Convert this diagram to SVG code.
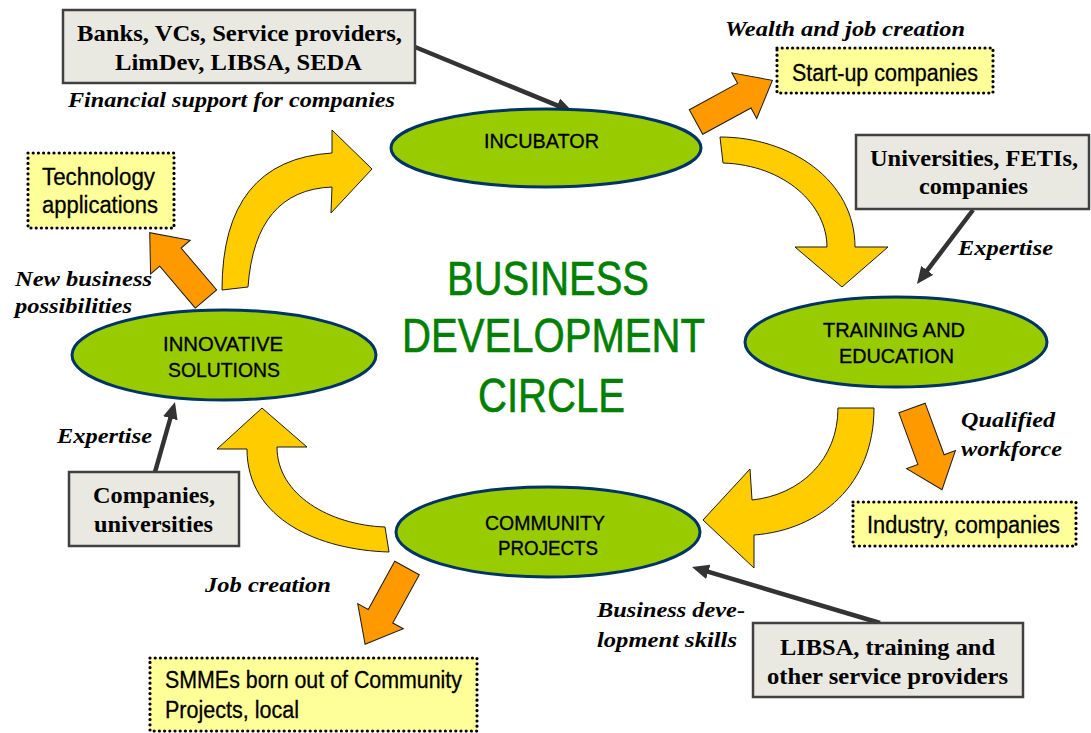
<svg xmlns="http://www.w3.org/2000/svg" width="1091" height="733" viewBox="0 0 1091 733">
<style>
.ell{fill:#99cc00;stroke:#003366;stroke-width:3}
.et{font-family:"Liberation Sans",Arial,sans-serif;font-size:21px;fill:#000;stroke:#000;stroke-width:0.35}
.grey{fill:#e9e9e1;stroke:#404040;stroke-width:2.5}
.gt{font-family:"Liberation Serif","Times New Roman",serif;font-weight:bold;font-size:23.5px;fill:#000}
.lab{font-family:"Liberation Serif","Times New Roman",serif;font-weight:bold;font-style:italic;font-size:22px;fill:#000}
.dot{fill:#ffff99;stroke:#000;stroke-width:3.2;stroke-dasharray:0 5.2;stroke-linecap:round}
.yt{font-family:"Liberation Sans",Arial,sans-serif;font-size:23.5px;fill:#000;stroke:#000;stroke-width:0.3}
.title{font-family:"Liberation Sans",Arial,sans-serif;font-size:49px;fill:#008000;stroke:#008000;stroke-width:0.6}
.curve{fill:#ffcc00;stroke:#1a1a1a;stroke-width:1}
.orange{fill:#ff9900;stroke:#1a1a1a;stroke-width:1}
.conn{fill:none;stroke:#333333;stroke-width:4.5;marker-end:url(#ah)}
</style>
<defs>
<marker id="ah" viewBox="0 0 17 15" refX="5" refY="7.5" markerWidth="17" markerHeight="15" markerUnits="userSpaceOnUse" orient="auto">
<path d="M0,0 L17,7.5 L0,15 Z" fill="#333333"/>
</marker>
<path id="oa" d="M0,-14 L55,-14 L55,-26 L87,0 L55,26 L55,14 L0,14 Z"/>
</defs>
<rect width="1091" height="733" fill="#ffffff"/>

<g id="title">
<text class="title" x="447" y="295" textLength="202" lengthAdjust="spacingAndGlyphs">BUSINESS</text>
<text class="title" x="402" y="352" textLength="303" lengthAdjust="spacingAndGlyphs">DEVELOPMENT</text>
<text class="title" x="478" y="412" textLength="147" lengthAdjust="spacingAndGlyphs">CIRCLE</text>
</g>

<g id="connectors">
<path class="curve" d="M222,290 Q222,160 332,153 L332,130 L372,169 L331,213 L332,187 Q255,190 248,287 Z"/>
<path class="curve" d="M720,137 C790,137 855,180 855,247 L888,247 L842,287 L795,247 L827,247 C827,205 785,165 723,163 Z"/>
<path class="curve" d="M838,408 L874,408 C874,485 820,530 754,535 L754,568 L703,520 L750,469 L752,500 C800,495 838,460 838,408 Z"/>
<path class="curve" d="M385,527 L389,552 C320,550 247,520 247,449 L217,449 L262,408 L307,447 L277,447 C277,495 330,525 385,527 Z"/>
<use href="#oa" class="orange" transform="translate(696,122) rotate(-28.6)"/>
<use href="#oa" class="orange" transform="translate(206,299) rotate(-130.3)"/>
<use href="#oa" class="orange" transform="translate(912,408) rotate(69.8)"/>
<use href="#oa" class="orange" transform="translate(407,568) rotate(118.8)"/>
<path class="conn" d="M415,47 L561.9,107.4"/>
<path class="conn" d="M973,210 L924.2,274.4"/>
<path class="conn" d="M155,472 L171.7,413.5"/>
<path class="conn" d="M880,623 L703.5,570.4"/>
</g>

<g id="incubator">
<ellipse class="ell" cx="546" cy="148" rx="155" ry="39"/>
<text class="et" x="484" y="148" textLength="115" lengthAdjust="spacingAndGlyphs">INCUBATOR</text>
</g>
<g id="training">
<ellipse class="ell" cx="896" cy="342" rx="151" ry="45"/>
<text class="et" x="823" y="337" textLength="142" lengthAdjust="spacingAndGlyphs">TRAINING AND</text>
<text class="et" x="839" y="363" textLength="115" lengthAdjust="spacingAndGlyphs">EDUCATION</text>
</g>
<g id="innovative">
<ellipse class="ell" cx="224" cy="355" rx="152" ry="45"/>
<text class="et" x="163" y="351" textLength="120" lengthAdjust="spacingAndGlyphs">INNOVATIVE</text>
<text class="et" x="168" y="377" textLength="112" lengthAdjust="spacingAndGlyphs">SOLUTIONS</text>
</g>
<g id="community">
<ellipse class="ell" cx="548" cy="532" rx="152" ry="45"/>
<text class="et" x="485" y="530" textLength="120" lengthAdjust="spacingAndGlyphs">COMMUNITY</text>
<text class="et" x="498" y="555" textLength="100" lengthAdjust="spacingAndGlyphs">PROJECTS</text>
</g>

<g id="banks">
<rect class="grey" x="63" y="10" width="352" height="73"/>
<text class="gt" x="77" y="41" textLength="325" lengthAdjust="spacingAndGlyphs">Banks, VCs, Service providers,</text>
<text class="gt" x="115" y="70" textLength="247" lengthAdjust="spacingAndGlyphs">LimDev, LIBSA, SEDA</text>
<text class="lab" x="68" y="107" textLength="327" lengthAdjust="spacingAndGlyphs">Financial support for companies</text>
</g>
<g id="universities">
<rect class="grey" x="856" y="135" width="233" height="74"/>
<text class="gt" x="870" y="166" textLength="208" lengthAdjust="spacingAndGlyphs">Universities, FETIs,</text>
<text class="gt" x="919" y="194" textLength="109" lengthAdjust="spacingAndGlyphs">companies</text>
<text class="lab" x="958" y="255" textLength="95" lengthAdjust="spacingAndGlyphs">Expertise</text>
</g>
<g id="companies">
<rect class="grey" x="69" y="472" width="170" height="74"/>
<text class="gt" x="93" y="503" textLength="122" lengthAdjust="spacingAndGlyphs">Companies,</text>
<text class="gt" x="94" y="532" textLength="119" lengthAdjust="spacingAndGlyphs">universities</text>
<text class="lab" x="57" y="443" textLength="95" lengthAdjust="spacingAndGlyphs">Expertise</text>
</g>
<g id="libsa">
<rect class="grey" x="753" y="623" width="270" height="74"/>
<text class="gt" x="780" y="655" textLength="215" lengthAdjust="spacingAndGlyphs">LIBSA, training and</text>
<text class="gt" x="767" y="684" textLength="241" lengthAdjust="spacingAndGlyphs">other service providers</text>
<text class="lab" x="597" y="617" textLength="148" lengthAdjust="spacingAndGlyphs">Business deve-</text>
<text class="lab" x="597" y="647" textLength="140" lengthAdjust="spacingAndGlyphs">lopment skills</text>
</g>

<g id="startup">
<rect class="dot" x="777" y="48" width="216" height="45"/>
<text class="yt" x="792" y="81" textLength="186" lengthAdjust="spacingAndGlyphs">Start-up companies</text>
<text class="lab" x="725" y="36" textLength="240" lengthAdjust="spacingAndGlyphs">Wealth and job creation</text>
</g>
<g id="technology">
<rect class="dot" x="28" y="153" width="146" height="75"/>
<text class="yt" x="42" y="185" textLength="113" lengthAdjust="spacingAndGlyphs">Technology</text>
<text class="yt" x="42" y="213" textLength="116" lengthAdjust="spacingAndGlyphs">applications</text>
<text class="lab" x="15" y="286" textLength="137" lengthAdjust="spacingAndGlyphs">New business</text>
<text class="lab" x="15" y="313" textLength="117" lengthAdjust="spacingAndGlyphs">possibilities</text>
</g>
<g id="industry">
<rect class="dot" x="853" y="502" width="223" height="44"/>
<text class="yt" x="867" y="533" textLength="193" lengthAdjust="spacingAndGlyphs">Industry, companies</text>
<text class="lab" x="961" y="427" textLength="94" lengthAdjust="spacingAndGlyphs">Qualified</text>
<text class="lab" x="961" y="456" textLength="101" lengthAdjust="spacingAndGlyphs">workforce</text>
</g>
<g id="smmes">
<rect class="dot" x="150" y="658" width="327" height="73"/>
<text class="yt" x="165" y="688" textLength="297" lengthAdjust="spacingAndGlyphs">SMMEs born out of Community</text>
<text class="yt" x="165" y="718" textLength="134" lengthAdjust="spacingAndGlyphs">Projects, local</text>
<text class="lab" x="205" y="592" textLength="126" lengthAdjust="spacingAndGlyphs">Job creation</text>
</g>
</svg>
